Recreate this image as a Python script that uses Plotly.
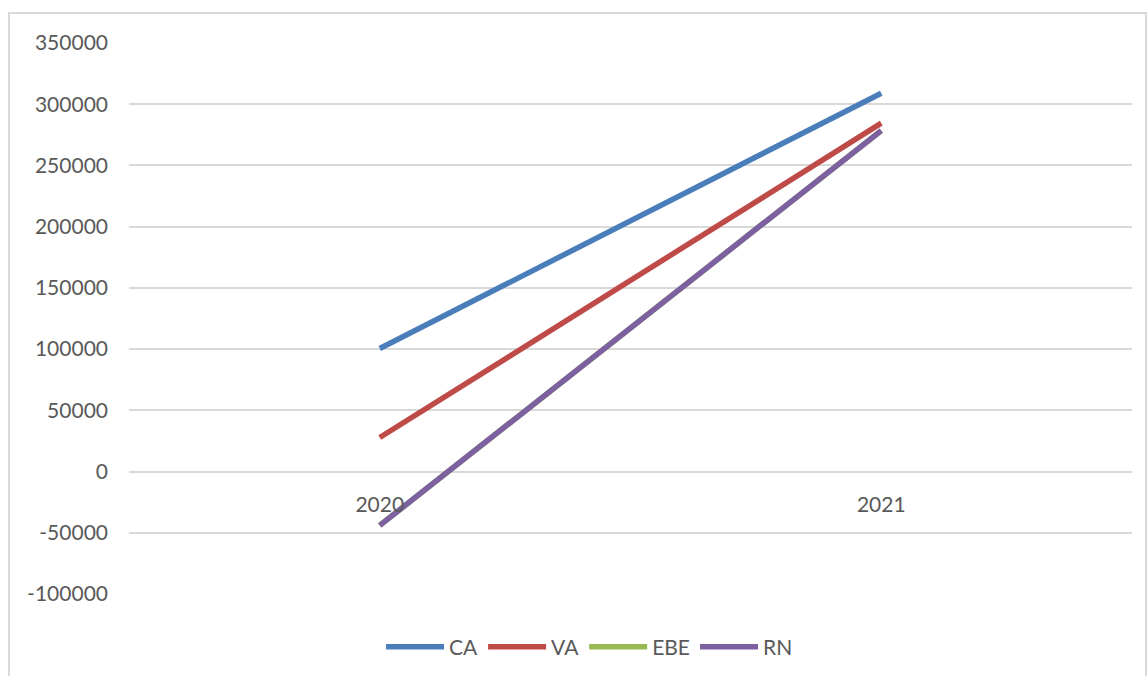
import plotly.graph_objects as go

categories = ["2020", "2021"]
ca = [100500, 309000]
va = [27800, 284500]
ebe = [-44000, 278500]
rn = [-44000, 278500]

y_ticks = [-100000, -50000, 0, 50000, 100000, 150000, 200000, 250000, 300000, 350000]
y_tick_text = [str(v) for v in y_ticks]

series = [
    ("CA", ca, "#4A7EBB"),
    ("VA", va, "#BE4B48"),
    ("EBE", ebe, "#98B954"),
    ("RN", rn, "#7D60A0"),
]

FONT = "Lato, 'Open Sans', sans-serif"
fig = go.Figure()
for name, vals, col in series:
    fig.add_trace(go.Scatter(
        x=categories, y=vals, name=name, mode="lines",
        line=dict(color=col, width=5.5),
    ))

ymin, ymax = -100000, 350000
zero_pos = (0 - ymin) / (ymax - ymin)

fig.update_layout(
    width=1147, height=676,
    margin=dict(l=129, r=15, t=43, b=82, autoexpand=False),
    paper_bgcolor="white", plot_bgcolor="white",
    font=dict(family=FONT, size=21, color="#595959"),
    showlegend=True,
    legend=dict(orientation="h", xref="container", yref="container",
                x=0.514, xanchor="center", y=1 - 647 / 676, yanchor="middle",
                itemwidth=58, font=dict(size=21, color="#595959"), tracegroupgap=0,
                bgcolor="rgba(0,0,0,0)"),
    xaxis=dict(
        type="category", range=[-0.5, 1.5], anchor="free", position=zero_pos,
        showgrid=False, showline=False, zeroline=False,
        ticks="", ticklabelstandoff=18,
        tickfont=dict(family=FONT, size=21, color="#595959"),
    ),
    yaxis=dict(
        range=[ymin, ymax], tickvals=y_ticks, ticktext=y_tick_text,
        showgrid=True, gridcolor="#D9D9D9", gridwidth=2,
        zeroline=False, showline=False, ticks="", ticklabelstandoff=20,
        tickfont=dict(family=FONT, size=21, color="#595959"),
    ),
    shapes=[dict(
        type="rect", xref="paper", yref="paper",
        x0=(9 - 129) / 1003, x1=(1146 - 129) / 1003,
        y0=(594 - 690) / 551, y1=(594 - 13) / 551,
        line=dict(color="#D9D9D9", width=2), fillcolor="rgba(0,0,0,0)", layer="below",
    )],
)

fig.write_html("out.html")
